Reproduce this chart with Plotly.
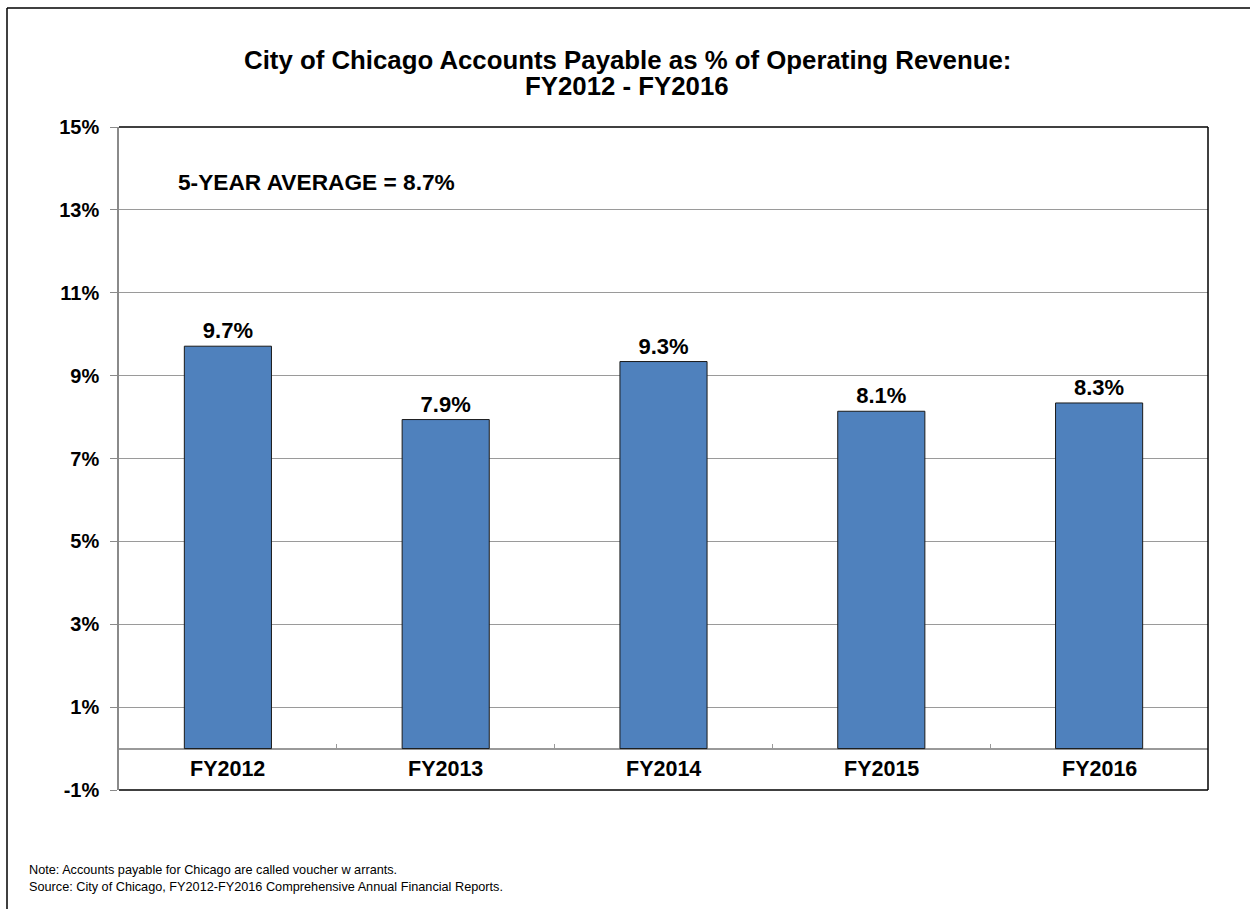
import plotly.graph_objects as go

categories = ["FY2012", "FY2013", "FY2014", "FY2015", "FY2016"]
values = [9.71, 7.94, 9.34, 8.14, 8.34]
y_ticks = [-1, 1, 3, 5, 7, 9, 11, 13, 15]
y_tick_labels = [f"{v}%" for v in y_ticks]
title_lines = ["City of Chicago Accounts Payable as % of Operating Revenue:", "FY2012 - FY2016"]
avg_text = "5-YEAR AVERAGE = 8.7%"
note_lines = ["Note: Accounts payable for Chicago are called voucher w arrants.",
              "Source: City of Chicago, FY2012-FY2016 Comprehensive Annual Financial Reports."]

FONT = "Liberation Sans, Arial, sans-serif"
W, H = 1250, 909
L, R, T, B = 119, 42, 127, 119
PW, PH = W - L - R, H - T - B
y_min, y_max = -1, 15


def px_x(x):
    return (x - L) / PW


def px_y(y):
    return (H - B - y) / PH


fig = go.Figure()
fig.add_trace(go.Bar(
    x=categories, y=values, width=0.4,
    marker=dict(color="#4F81BD", line=dict(color="#1a1a1a", width=1)),
    texttemplate="%{y:.1f}%", textposition="outside",
    textfont=dict(family=FONT, size=22, color="black", weight="bold"),
    cliponaxis=False, showlegend=False, hoverinfo="skip",
))
fig.add_trace(go.Scatter(x=[-0.5, 4.5], y=[0, 0], xaxis="x2", mode="lines",
                         line=dict(width=0), showlegend=False, hoverinfo="skip"))

for c in categories:
    fig.add_annotation(x=c, y=-0.5, xref="x", yref="y", text=c, showarrow=False,
                       font=dict(family=FONT, size=21.5, color="black", weight="bold"))

for line, yc in zip(title_lines, [60, 86]):
    fig.add_annotation(x=px_x(W / 2 + 2), y=px_y(yc), xref="paper", yref="paper",
                       xanchor="center", yanchor="middle", text=line, showarrow=False,
                       font=dict(family=FONT, size=25.8, color="black", weight="bold"))

fig.add_annotation(x=px_x(176), y=13.67, xref="paper", yref="y",
                   xanchor="left", yanchor="middle", text=avg_text, showarrow=False,
                   font=dict(family=FONT, size=22.7, color="black", weight="bold"))

fig.add_annotation(x=px_x(27), y=px_y(896), xref="paper", yref="paper",
                   xanchor="left", yanchor="bottom", align="left", showarrow=False,
                   text="<br>".join(note_lines),
                   font=dict(family=FONT, size=12.7, color="black"))

for x0, y0, x1, y1 in [(0, 1, 1, 1), (1, 0, 1, 1), (0, 0, 1, 0)]:
    fig.add_shape(type="line", xref="x domain", yref="y domain", x0=x0, y0=y0, x1=x1, y1=y1,
                  line=dict(color="black", width=1.5))
fig.add_shape(type="line", xref="paper", yref="paper",
              x0=px_x(7), x1=px_x(7), y0=px_y(H), y1=px_y(8),
              line=dict(color="black", width=1.5))
fig.add_shape(type="line", xref="paper", yref="paper",
              x0=px_x(7), x1=px_x(W), y0=px_y(8), y1=px_y(8),
              line=dict(color="black", width=1.5))

fig.update_layout(
    width=W, height=H,
    margin=dict(l=L, r=R, t=T, b=B),
    paper_bgcolor="white", plot_bgcolor="white",
    xaxis=dict(type="category", range=[-0.5, 4.5], showticklabels=False, ticks="",
               showgrid=False, showline=False, zeroline=False),
    xaxis2=dict(overlaying="x", anchor="free", position=(0 - y_min) / (y_max - y_min),
                range=[-0.5, 4.5], tickvals=[0.5, 1.5, 2.5, 3.5], ticks="inside",
                ticklen=5, tickcolor="#999999", showticklabels=False, showgrid=False,
                showline=False, zeroline=False, side="bottom"),
    yaxis=dict(range=[y_min, y_max], tickvals=y_ticks, ticktext=y_tick_labels,
               showgrid=True, gridcolor="#9a9a9a", gridwidth=1,
               zeroline=True, zerolinecolor="#9a9a9a", zerolinewidth=1.5,
               showline=True, linecolor="#8a8a8a", linewidth=1.5,
               ticks="outside", ticklen=7, tickcolor="#8a8a8a", ticklabelstandoff=7,
               tickfont=dict(family=FONT, size=20, color="black", weight="bold")),
)

fig.write_html("out.html", config={"displayModeBar": False},
               post_script="document.body.style.margin='0';document.body.style.overflow='hidden';")
